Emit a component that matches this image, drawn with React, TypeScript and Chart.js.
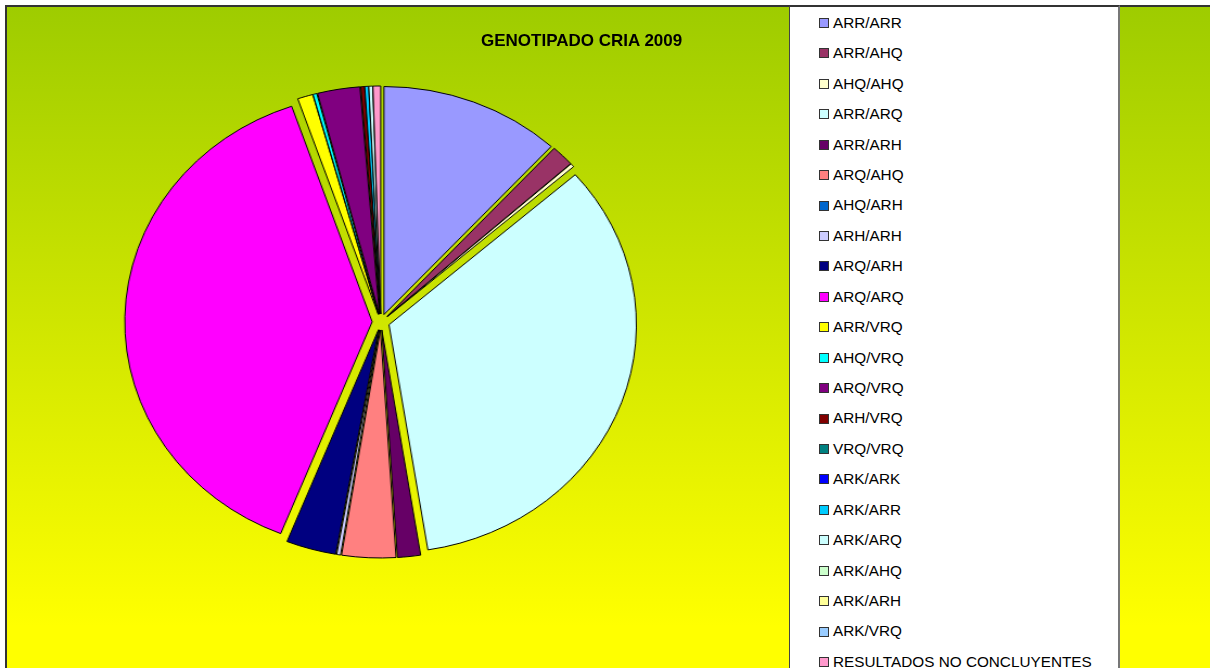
import React, { useEffect, useRef } from "react";
import { Chart, registerables } from "chart.js";

Chart.register(...registerables);

const TITLE = "GENOTIPADO CRIA 2009";

const categories: string[] = [
  "ARR/ARR",
  "ARR/AHQ",
  "AHQ/AHQ",
  "ARR/ARQ",
  "ARR/ARH",
  "ARQ/AHQ",
  "AHQ/ARH",
  "ARH/ARH",
  "ARQ/ARH",
  "ARQ/ARQ",
  "ARR/VRQ",
  "AHQ/VRQ",
  "ARQ/VRQ",
  "ARH/VRQ",
  "VRQ/VRQ",
  "ARK/ARK",
  "ARK/ARR",
  "ARK/ARQ",
  "ARK/AHQ",
  "ARK/ARH",
  "ARK/VRQ",
  "RESULTADOS NO CONCLUYENTES",
];

const counts: number[] = [47, 6, 1, 135, 6, 14, 0, 1, 13, 154, 4, 1, 11, 1, 0, 0, 1, 1, 0, 0, 0, 2];

const colors: string[] = [
  "#9999FF",
  "#993366",
  "#FFFFCC",
  "#CCFFFF",
  "#660066",
  "#FF8080",
  "#0066CC",
  "#CCCCFF",
  "#000080",
  "#FF00FF",
  "#FFFF00",
  "#00FFFF",
  "#800080",
  "#800000",
  "#008080",
  "#0000FF",
  "#00CCFF",
  "#CCFFFF",
  "#CCFFCC",
  "#FFFF99",
  "#99CCFF",
  "#FF99CC",
];

const FONT = "'Liberation Sans', Arial, sans-serif";
const EXPLODE = 8;

const explodePlugin = {
  id: "uniformExplode",
  afterDatasetsUpdate(chart: any) {
    const meta = chart.getDatasetMeta(0);
    meta.data.forEach((arc: any) => {
      const mid = (arc.startAngle + arc.endAngle) / 2;
      arc.x += Math.cos(mid) * EXPLODE;
      arc.y += Math.sin(mid) * EXPLODE;
    });
  },
};

export default function App() {
  const ref = useRef<HTMLCanvasElement>(null);

  useEffect(() => {
    document.body.style.margin = "0";
    const canvas = ref.current;
    if (!canvas) return;
    const chart = new Chart(canvas, {
      type: "pie",
      data: {
        labels: categories,
        datasets: [
          {
            data: counts,
            backgroundColor: colors,
            borderColor: "#000000",
            borderWidth: 1,
            offset: 0,
            hoverOffset: 0,
          },
        ],
      },
      options: {
        responsive: false,
        maintainAspectRatio: false,
        animation: false,
        radius: 228,
        layout: { padding: { left: 0, right: 26, top: 0, bottom: 24 } },
        plugins: {
          legend: { display: false },
          tooltip: { enabled: false },
          title: { display: false },
        },
        events: [],
      } as any,
      plugins: [explodePlugin],
    });
    return () => chart.destroy();
  }, []);

  const rowGap = 30.43;

  return (
    <div
      style={{
        position: "relative",
        width: 1210,
        height: 668,
        overflow: "hidden",
        fontFamily: FONT,
      }}
    >
      <div
        style={{
          position: "absolute",
          left: 5,
          top: 5,
          width: 1300,
          height: 700,
          borderLeft: "2px solid #333",
          borderTop: "2px solid #333",
          background: "linear-gradient(to bottom, #9ECC00 0px, #FFFF00 620px, #FFFF00 700px)",
        }}
      />
      <canvas
        ref={ref}
        width={728}
        height={668}
        style={{
          position: "absolute",
          left: 0,
          top: 0,
          width: "728px",
          height: "668px",
          transform: "scaleX(1.085)",
          transformOrigin: "0 0",
        }}
      />
      <div
        style={{
          position: "absolute",
          left: 481,
          top: 32,
          fontSize: "17px",
          lineHeight: "17px",
          fontWeight: "bold",
          color: "#000",
          whiteSpace: "nowrap",
        }}
      >
        {TITLE}
      </div>
      <div
        style={{
          position: "absolute",
          left: 789,
          top: 5,
          width: 328,
          height: 700,
          background: "#FFFFFF",
          borderLeft: "1px solid #444",
          borderTop: "2px solid #333",
          borderRight: "2px solid #777",
        }}
      />
      {categories.map((c, i) => (
        <React.Fragment key={c + i}>
          <div
            style={{
              position: "absolute",
              left: 819,
              top: 18 + i * rowGap,
              width: 10,
              height: 10,
              boxSizing: "border-box",
              border: "1px solid #333",
              background: colors[i],
            }}
          />
          <div
            style={{
              position: "absolute",
              left: 833,
              top: 14.8 + i * rowGap,
              fontSize: "15.3px",
              lineHeight: "15px",
              color: "#000",
              whiteSpace: "nowrap",
            }}
          >
            {c}
          </div>
        </React.Fragment>
      ))}
    </div>
  );
}
